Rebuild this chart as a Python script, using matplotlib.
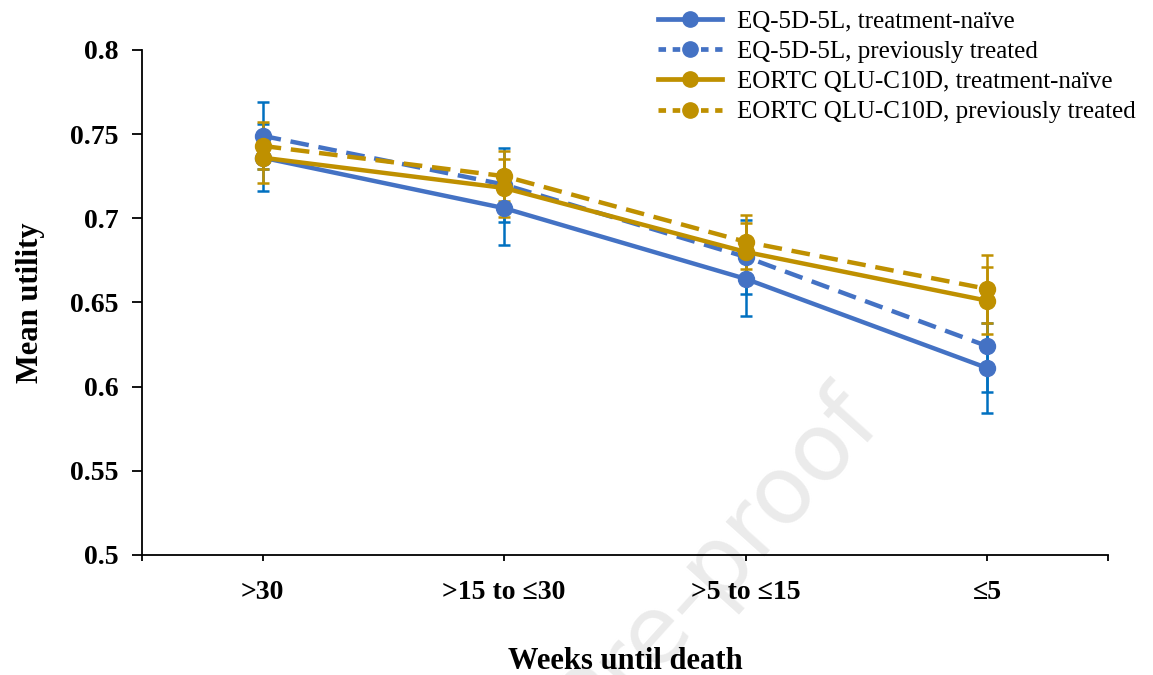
import matplotlib
matplotlib.use("Agg")
import matplotlib.pyplot as plt
from matplotlib.lines import Line2D
import numpy as np

categories = [">30", ">15 to \u226430", ">5 to \u226415", "\u22645"]
eq_naive = [0.736, 0.706, 0.664, 0.611]
eq_naive_err = [0.020, 0.022, 0.022, 0.027]
eq_prev = [0.749, 0.720, 0.677, 0.624]
eq_prev_err = [0.020, 0.022, 0.022, 0.027]
eortc_naive = [0.736, 0.718, 0.680, 0.651]
eortc_naive_err = [0.015, 0.017, 0.017, 0.020]
eortc_prev = [0.743, 0.725, 0.686, 0.658]
eortc_prev_err = [0.014, 0.015, 0.016, 0.020]
labels = ["EQ-5D-5L, treatment-na\u00efve", "EQ-5D-5L, previously treated",
          "EORTC QLU-C10D, treatment-na\u00efve", "EORTC QLU-C10D, previously treated"]
yticks = [0.5, 0.55, 0.6, 0.65, 0.7, 0.75, 0.8]
ytick_labels = ["0.5", "0.55", "0.6", "0.65", "0.7", "0.75", "0.8"]

plt.rcParams['font.family'] = ['Liberation Serif', 'DejaVu Serif']

BLUE = "#4472C4"
BLUE_ERR = "#0070C0"
GOLD = "#BF9000"

fig = plt.figure(figsize=(11.53, 6.75), dpi=100)
ax = fig.add_axes([0.123, 0.178, 0.838, 0.748])
ax.patch.set_alpha(0)

x = np.arange(len(categories))
series = [
    (eq_naive, eq_naive_err, BLUE, BLUE_ERR, '-'),
    (eq_prev, eq_prev_err, BLUE, BLUE_ERR, '--'),
    (eortc_naive, eortc_naive_err, GOLD, GOLD, '-'),
    (eortc_prev, eortc_prev_err, GOLD, GOLD, '--'),
]
handles = []
for i, (vals, errs, col, ecol, ls) in enumerate(series):
    ax.errorbar(x, vals, yerr=errs, fmt='none', ecolor=ecol, elinewidth=1.8,
                capsize=4.5, capthick=1.8, zorder=2 + i * 0.1)
    kw = dict(color=col, lw=3.2, marker='o', markersize=11.5, zorder=3 + i * 0.1)
    if ls == '--':
        line, = ax.plot(x, vals, linestyle=(0, (4.2, 2.2)), **kw)
    else:
        line, = ax.plot(x, vals, linestyle='-', **kw)
    handles.append(Line2D([0], [0], color=col, lw=3.4, marker='o', markersize=11,
                          linestyle=(0, (1.6, 1.4)) if ls == '--' else '-',
                          markevery=[0, -1]))

ax.set_xlim(-0.5, 3.5)
ax.set_ylim(0.5, 0.8)
ax.set_yticks(yticks)
ax.set_yticklabels(ytick_labels, fontsize=20, fontweight='bold')
ax.set_xticks(x)
ax.set_xticklabels(categories, fontsize=20, fontweight='bold')
ax.set_xticks([-0.5, 3.5], minor=True)
ax.tick_params(axis='x', which='both', direction='out', length=4, width=1.3, pad=14)
ax.tick_params(axis='y', direction='out', length=7, width=1.3, pad=10)
for s in ['top', 'right']:
    ax.spines[s].set_visible(False)
for s in ['left', 'bottom']:
    ax.spines[s].set_linewidth(1.3)

ax.set_xlabel("Weeks until death", fontsize=22, fontweight='bold', labelpad=30)
ax.set_ylabel("Mean utility", fontsize=22, fontweight='bold', labelpad=18)

leg = fig.legend(handles, labels, loc='upper left', bbox_to_anchor=(0.562, 1.0),
                 frameon=False, fontsize=18, handlelength=2.55, handletextpad=0.6,
                 labelspacing=0.31, borderaxespad=0)

fig.text(0.768, 0.366, "Journal Pre-proof", fontsize=68, color='#ebebeb',
         family='DejaVu Sans', rotation=48, rotation_mode='anchor',
         ha='right', va='baseline', zorder=-1)

fig.savefig("out.png", dpi=100)
